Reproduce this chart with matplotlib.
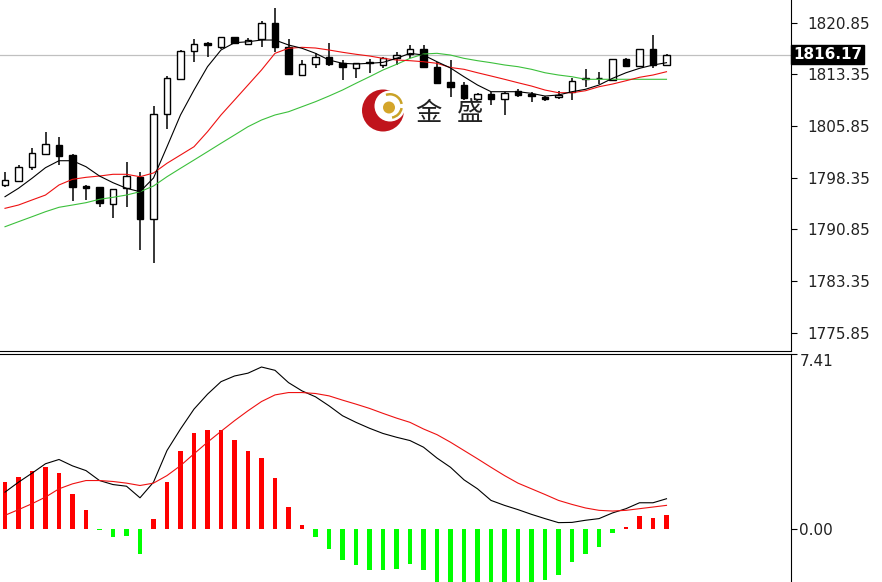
import numpy as np
import matplotlib.pyplot as plt
from matplotlib.patches import Circle, Wedge
from matplotlib.transforms import IdentityTransform

# ---- price bars ----
opens = [1797.23, 1797.85, 1799.84, 1801.77, 1803.07, 1801.62, 1797.08, 1796.94, 1794.47, 1796.79,
         1798.39, 1792.33, 1807.53, 1812.65, 1816.72, 1817.84, 1817.34, 1818.75, 1817.78, 1818.42,
         1820.74, 1817.34, 1813.23, 1814.83, 1815.89, 1815.02, 1814.29, 1815.12, 1814.69, 1815.66,
         1816.24, 1816.97, 1814.44, 1812.22, 1811.78, 1809.71, 1810.48, 1809.71, 1810.91, 1810.48,
         1810.09, 1810.00, 1810.81, 1812.65, 1812.73, 1812.51, 1815.51, 1814.54, 1816.97, 1814.69]
highs = [1799.20, 1800.17, 1802.68, 1804.96, 1804.19, 1801.77, 1797.27, 1796.98, 1796.69, 1800.56,
         1799.20, 1808.74, 1813.09, 1816.86, 1818.46, 1818.07, 1818.80, 1818.80, 1818.65, 1821.12,
         1822.92, 1818.46, 1815.41, 1816.47, 1817.84, 1815.41, 1815.02, 1815.56, 1815.85, 1816.62,
         1817.59, 1817.59, 1815.12, 1815.41, 1812.26, 1810.67, 1810.81, 1810.77, 1811.16, 1810.81,
         1810.23, 1810.96, 1812.76, 1814.06, 1813.74, 1815.56, 1815.66, 1817.01, 1819.04, 1816.35]
lows = [1796.98, 1797.70, 1799.45, 1801.62, 1800.17, 1794.95, 1795.09, 1794.12, 1792.52, 1794.03,
        1787.84, 1785.91, 1805.35, 1812.51, 1815.17, 1815.80, 1816.97, 1817.80, 1817.55, 1817.34,
        1816.53, 1813.30, 1813.10, 1814.21, 1814.54, 1812.51, 1812.76, 1813.57, 1814.21, 1814.69,
        1815.66, 1814.21, 1811.93, 1810.00, 1809.61, 1809.61, 1808.88, 1807.43, 1810.00, 1809.36,
        1809.50, 1809.75, 1809.61, 1811.49, 1811.97, 1812.36, 1814.44, 1814.54, 1814.21, 1814.54]
closes = [1797.99, 1799.84, 1801.87, 1803.22, 1801.48, 1797.02, 1796.88, 1794.61, 1796.65, 1798.58,
          1792.33, 1807.53, 1812.76, 1816.72, 1817.69, 1817.55, 1818.75, 1817.84, 1818.27, 1820.83,
          1817.34, 1813.38, 1814.79, 1815.89, 1814.83, 1814.35, 1814.93, 1814.93, 1815.66, 1816.14,
          1816.97, 1814.44, 1812.12, 1811.54, 1809.85, 1810.43, 1809.71, 1810.67, 1810.33, 1810.14,
          1809.80, 1810.33, 1812.36, 1812.80, 1812.80, 1815.51, 1814.54, 1816.97, 1814.69, 1816.17]

# ---- moving averages ----
ma_fast = [1795.57, 1796.79, 1798.24, 1799.78, 1800.79, 1800.79, 1799.92, 1798.57, 1797.60, 1796.79,
           1796.29, 1798.28, 1802.82, 1807.43, 1811.05, 1814.44, 1816.86, 1817.92, 1818.06, 1818.31,
           1818.31, 1817.59, 1817.11, 1816.38, 1815.41, 1814.93, 1814.83, 1814.93, 1815.07, 1815.65,
           1816.38, 1816.13, 1815.16, 1814.25, 1812.98, 1811.78, 1810.81, 1810.81, 1810.81, 1810.57,
           1810.18, 1810.33, 1810.81, 1811.16, 1811.78, 1812.75, 1813.56, 1814.20, 1814.68, 1815.02]
ma_mid = [1793.88, 1794.36, 1795.09, 1795.81, 1797.27, 1798.09, 1798.38, 1798.57, 1798.82, 1798.82,
          1798.47, 1799.01, 1800.42, 1801.62, 1802.82, 1805.00, 1807.43, 1809.60, 1811.78, 1813.96,
          1816.38, 1817.11, 1817.25, 1817.15, 1816.86, 1816.53, 1816.24, 1815.99, 1815.65, 1815.41,
          1815.31, 1815.16, 1814.93, 1814.32, 1814.06, 1813.56, 1813.09, 1812.61, 1812.11, 1811.63,
          1811.05, 1810.66, 1810.66, 1810.95, 1811.53, 1811.92, 1812.40, 1812.90, 1813.23, 1813.71]
ma_slow = [1791.21, 1791.94, 1792.66, 1793.39, 1794.03, 1794.36, 1794.70, 1795.19, 1795.48, 1795.81,
           1796.29, 1797.12, 1798.47, 1799.69, 1800.89, 1802.10, 1803.32, 1804.52, 1805.73, 1806.70,
           1807.43, 1807.90, 1808.63, 1809.36, 1810.18, 1811.05, 1812.03, 1812.98, 1813.96, 1814.78,
           1815.65, 1816.28, 1816.38, 1816.13, 1815.65, 1815.31, 1815.02, 1814.69, 1814.44, 1814.06,
           1813.56, 1813.23, 1812.98, 1812.61, 1812.61, 1812.61, 1812.61, 1812.61, 1812.61, 1812.61]

# ---- MACD panel ----
macd_hist = [1.98, 2.22, 2.47, 2.65, 2.39, 1.50, 0.80, -0.03, -0.34, -0.29,
             -1.04, 0.43, 1.98, 3.31, 4.05, 4.18, 4.18, 3.79, 3.30, 3.03,
             2.18, 0.93, 0.18, -0.31, -0.84, -1.28, -1.53, -1.71, -1.71, -1.67,
             -1.49, -1.74, -2.36, -2.60, -2.80, -2.90, -2.90, -2.80, -2.60, -2.40,
             -2.13, -1.92, -1.39, -1.04, -0.73, -0.16, 0.08, 0.55, 0.49, 0.59]
macd_line = [1.57, 1.99, 2.37, 2.77, 2.95, 2.68, 2.48, 2.06, 1.89, 1.82,
             1.33, 1.99, 3.33, 4.24, 5.08, 5.71, 6.24, 6.48, 6.60, 6.86,
             6.72, 6.20, 5.85, 5.60, 5.22, 4.80, 4.52, 4.27, 4.05, 3.89,
             3.75, 3.47, 3.01, 2.62, 2.09, 1.71, 1.22, 1.01, 0.83, 0.63,
             0.45, 0.28, 0.29, 0.38, 0.45, 0.69, 0.87, 1.12, 1.12, 1.29]
macd_signal = [0.59, 0.83, 1.08, 1.36, 1.71, 1.92, 2.06, 2.06, 2.02, 1.95,
               1.85, 1.95, 2.27, 2.69, 3.19, 3.68, 4.14, 4.59, 5.01, 5.40,
               5.68, 5.78, 5.78, 5.74, 5.64, 5.46, 5.29, 5.11, 4.90, 4.70,
               4.52, 4.24, 4.00, 3.68, 3.33, 2.98, 2.62, 2.27, 1.95, 1.71,
               1.47, 1.22, 1.05, 0.90, 0.80, 0.77, 0.80, 0.87, 0.94, 1.01]

price_ticks = [1820.85, 1813.35, 1805.85, 1798.35, 1790.85, 1783.35, 1775.85]
macd_ticks = [7.41, 0.00]
last_price = 1816.17

W, H = 882, 582
fig = plt.figure(figsize=(W / 100, H / 100), dpi=100)
fig.patch.set_facecolor("white")

# price panel ends at y=351 px, MACD panel starts at y=354 px (double rule between)
ax_p = fig.add_axes([0, 1 - 351 / H, 791 / W, 351 / H])
ax_m = fig.add_axes([0, 0, 791 / W, 228 / H])

x = np.arange(len(opens))
o = np.array(opens); c = np.array(closes)
h = np.array(highs); l = np.array(lows)
up = c >= o

# wicks, then bodies
ax_p.vlines(x, l, h, color="black", linewidth=1.1, zorder=2)
ax_p.bar(x, np.abs(c - o), bottom=np.minimum(o, c), width=0.48,
         color=np.where(up, "white", "black"), edgecolor="black", linewidth=1.0, zorder=3)

ax_p.plot(x, ma_slow, color="#3cc03c", linewidth=0.8, zorder=4)
ax_p.plot(x, ma_mid, color="#ee1111", linewidth=0.8, zorder=4)
ax_p.plot(x, ma_fast, color="black", linewidth=0.8, zorder=5)

ax_p.axhline(last_price, color="#c0c0c0", linewidth=0.9, zorder=1)

xlim = (-5 / 13.5, 786 / 13.5)
ax_p.set_xlim(xlim)
ax_p.set_ylim(1773.17, 1824.12)

# MACD
hist = np.array(macd_hist)
ax_m.bar(x, hist, width=0.37, color=np.where(hist >= 0, "#ff0000", "#00ff00"), linewidth=0)
ax_m.plot(x, macd_line, color="black", linewidth=0.8)
ax_m.plot(x, macd_signal, color="#ee1111", linewidth=0.8)
ax_m.set_xlim(xlim)
ax_m.set_ylim(-2.23, 7.37)

for ax in (ax_p, ax_m):
    ax.set_facecolor("white")
    ax.spines["left"].set_visible(False)
    for s in ax.spines.values():
        s.set_color("black")
        s.set_linewidth(0.8)
    ax.set_xticks([])
    ax.yaxis.tick_right()
    ax.tick_params(axis="y", direction="out", length=4, width=0.8, colors="black",
                   labelcolor="#222222", labelsize=11)

ax_p.spines["top"].set_visible(False)
ax_m.spines["bottom"].set_visible(False)

ax_p.set_yticks(price_ticks)
ax_p.set_yticklabels([f"{v:.2f}" for v in price_ticks])
ax_p.tick_params(axis="y", pad=8)

ax_m.set_yticks(macd_ticks)
ax_m.set_yticklabels([f"{v:.2f}" for v in macd_ticks])
ax_m.tick_params(axis="y", pad=2)
ax_m.get_yticklabels()[0].set_verticalalignment("top")

# current price tag
ax_p.text(1.0 + 2 / 791, last_price, f"{last_price:.2f}", transform=ax_p.get_yaxis_transform(),
          ha="left", va="center", color="white", fontsize=11, fontweight="bold", clip_on=False,
          zorder=10, bbox=dict(boxstyle="square,pad=0.12", facecolor="black", edgecolor="black"))

# watermark logo (display pixel coords)
tr = IdentityTransform()
def px(xp, yp):
    return (xp, H - yp)

fig.patches.append(Circle(px(383, 110.5), 21, transform=tr, facecolor="#c0141c", edgecolor="none"))
fig.patches.append(Circle(px(390, 106), 15.5, transform=tr, facecolor="white", edgecolor="none"))
fig.patches.append(Wedge(px(390, 106), 13, 10, 110, width=2.5, transform=tr,
                         facecolor="#c9a227", edgecolor="none"))
fig.patches.append(Wedge(px(390, 106), 13, 280, 350, width=2.5, transform=tr,
                         facecolor="#c9a227", edgecolor="none"))
fig.patches.append(Circle(px(389, 107.5), 6, transform=tr, facecolor="#d4a52a", edgecolor="none"))
fig.text(428 / W, 1 - 113 / H, "金", ha="center", va="center", fontsize=19, color="#222222",
         family=["Noto Sans CJK SC", "DejaVu Sans"])
fig.text(470 / W, 1 - 113 / H, "盛", ha="center", va="center", fontsize=19, color="#222222",
         family=["Noto Sans CJK SC", "DejaVu Sans"])

fig.savefig("out.png", dpi=100)
